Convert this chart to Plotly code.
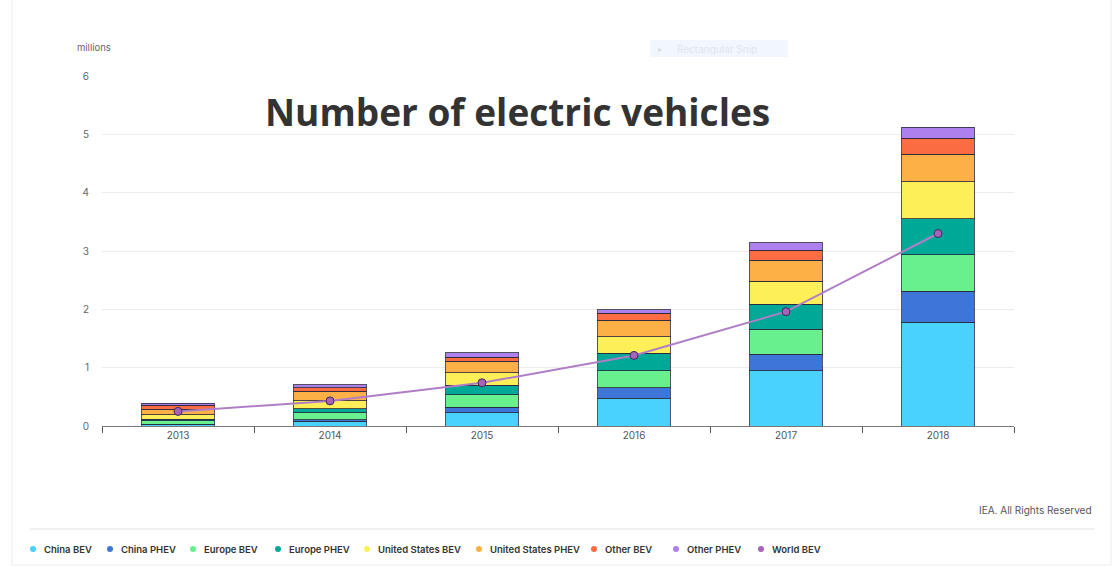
import plotly.graph_objects as go

# Electric vehicle stock by region and powertrain (millions)
years = ["2013", "2014", "2015", "2016", "2017", "2018"]

china_bev = [0.02, 0.08, 0.23, 0.47, 0.95, 1.78]
china_phev = [0.01, 0.03, 0.09, 0.19, 0.28, 0.53]
europe_bev = [0.06, 0.12, 0.22, 0.29, 0.43, 0.63]
europe_phev = [0.03, 0.07, 0.16, 0.30, 0.43, 0.61]
us_bev = [0.07, 0.13, 0.21, 0.28, 0.39, 0.64]
us_phev = [0.10, 0.17, 0.20, 0.28, 0.36, 0.47]
other_bev = [0.07, 0.06, 0.07, 0.12, 0.17, 0.27]
other_phev = [0.03, 0.05, 0.08, 0.06, 0.13, 0.19]
world_bev = [0.25, 0.43, 0.74, 1.21, 1.96, 3.30]

series_names = ["China BEV", "China PHEV", "Europe BEV", "Europe PHEV",
                "United States BEV", "United States PHEV", "Other BEV", "Other PHEV"]
series_values = [china_bev, china_phev, europe_bev, europe_phev,
                 us_bev, us_phev, other_bev, other_phev]
series_colors = ["#48d2fd", "#3d76d6", "#68f08e", "#00a898",
                 "#fdef57", "#fcb045", "#fb6c43", "#ad80ee"]
line_color = "#b07ec6"
marker_color = "#a862b8"

y_ticks = [0, 1, 2, 3, 4, 5, 6]

W, H = 1116, 567
PL, PR, PT, PB = 102, 1014, 76, 426  # plot area in pixels


def px(x):
    return (x - PL) / (PR - PL)


def py(y):
    return (PB - y) / (PB - PT)


fig = go.Figure()

for name, vals, col in zip(series_names, series_values, series_colors):
    fig.add_trace(go.Bar(
        x=years, y=vals, name=name,
        marker=dict(color=col, line=dict(color="rgba(40,40,60,0.8)", width=1)),
        hoverinfo="name+y",
    ))

fig.add_trace(go.Scatter(
    x=years, y=world_bev, name="World BEV", mode="lines+markers",
    line=dict(color=line_color, width=2),
    marker=dict(size=8, color=marker_color, line=dict(color="#3c2c5c", width=1)),
))

font_family = "Inter, Lato, 'Open Sans', sans-serif"

shapes = []
annotations = []

# card outline and separator above the legend
shapes.append(dict(type="line", xref="paper", yref="paper",
                   x0=px(12), x1=px(12), y0=py(0), y1=py(565),
                   line=dict(color="#ececec", width=1)))
shapes.append(dict(type="line", xref="paper", yref="paper",
                   x0=px(1111), x1=px(1111), y0=py(0), y1=py(565),
                   line=dict(color="#ececec", width=1)))
shapes.append(dict(type="line", xref="paper", yref="paper",
                   x0=px(12), x1=px(1111), y0=py(565), y1=py(565),
                   line=dict(color="#ececec", width=1)))
shapes.append(dict(type="line", xref="paper", yref="paper",
                   x0=px(30), x1=px(1095), y0=py(529), y1=py(529),
                   line=dict(color="#e2e2e2", width=1)))

# faint snipping-tool bar
shapes.append(dict(type="rect", xref="paper", yref="paper",
                   x0=px(650), x1=px(788), y0=py(40), y1=py(57),
                   fillcolor="#f2f7fe", line=dict(width=0), layer="below"))
annotations.append(dict(text="▸", xref="paper", yref="paper",
                        x=px(660), y=py(48.5), xanchor="center", yanchor="middle",
                        showarrow=False, font=dict(size=8, color="#d3dbe8", family=font_family)))
annotations.append(dict(text="Rectangular Snip", xref="paper", yref="paper",
                        x=px(675), y=py(48.5), xanchor="left", yanchor="middle",
                        showarrow=False, font=dict(size=10, color="#e0e6ee", family=font_family)))

# unit label
annotations.append(dict(text="millions", xref="paper", yref="paper",
                        x=px(75), y=py(48), xanchor="left", yanchor="middle",
                        showarrow=False, font=dict(size=9.5, color="#666", family=font_family)))

# overlaid title
annotations.append(dict(text="<b>Number of electric vehicles</b>", xref="paper", yref="paper",
                        x=px(517), y=py(111), xanchor="center", yanchor="middle",
                        showarrow=False, font=dict(size=37, color="#333333", family="'Open Sans', sans-serif")))

# source note
annotations.append(dict(text="IEA. All Rights Reserved", xref="paper", yref="paper",
                        x=px(1094), y=py(510), xanchor="right", yanchor="middle",
                        showarrow=False, font=dict(size=10, color="#555", family=font_family)))

# legend row
legend_names = series_names + ["World BEV"]
legend_colors = series_colors + [marker_color]
legend_x = [33, 110, 193, 278, 367, 479, 594, 676, 761]
ly = 549
for nm, col, x in zip(legend_names, legend_colors, legend_x):
    r = 3
    shapes.append(dict(type="circle", xref="paper", yref="paper",
                       x0=px(x - r), x1=px(x + r), y0=py(ly - r), y1=py(ly + r),
                       fillcolor=col, line=dict(width=0)))
    annotations.append(dict(text=nm, xref="paper", yref="paper",
                            x=px(x + 9), y=py(ly), xanchor="left", yanchor="middle",
                            showarrow=False,
                            font=dict(size=9.5, color="#333", family=font_family, weight=600)))

fig.update_layout(
    width=W, height=H,
    margin=dict(l=PL, r=W - PR, t=PT, b=H - PB, pad=0),
    paper_bgcolor="white", plot_bgcolor="white",
    barmode="stack", bargap=0.52,
    showlegend=False,
    shapes=shapes, annotations=annotations,
    font=dict(family=font_family),
    xaxis=dict(
        type="category", range=[-0.5, 5.5],
        showline=True, linecolor="#777", linewidth=1,
        ticks="outside", tickson="boundaries", ticklen=6, tickcolor="#555",
        tickfont=dict(size=10, color="#555"),
        showgrid=False,
    ),
    yaxis=dict(
        range=[0, 6], tickvals=y_ticks,
        showgrid=True, gridcolor="#ececec", gridwidth=1,
        zeroline=False, showline=False,
        tickfont=dict(size=10, color="#666"),
        ticks="", ticklabelstandoff=12,
    ),
)

fig.write_html("out.html")
